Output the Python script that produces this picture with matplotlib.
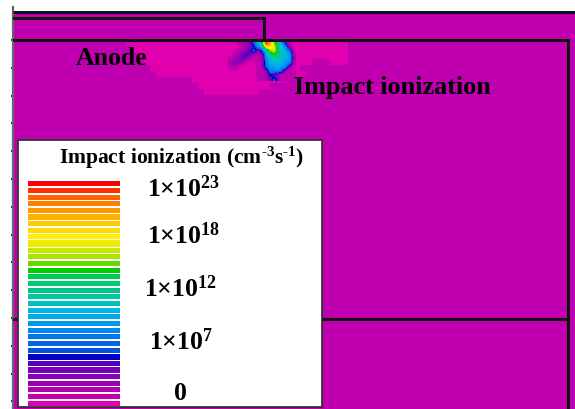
import matplotlib
matplotlib.use('Agg')
import matplotlib.pyplot as plt
from matplotlib.colors import ListedColormap
from matplotlib.patches import Rectangle
import numpy as np

# legend colours, top (highest) to bottom
legend_colors = ['#ff0000', '#ff3000', '#ff6600', '#ff8000', '#ff9900', '#ffb000', '#ffcc00',
                 '#ffdd00', '#fff000', '#eeee00', '#c8e800', '#a8e600', '#66d800', '#00d000',
                 '#00cc55', '#00cc70', '#00c488', '#00c8a0', '#00c0c0', '#00b8e0', '#00aaee',
                 '#0099ee', '#0088ee', '#0077ee', '#0066e8', '#0055dd', '#0000cc', '#5500bb',
                 '#7700bb', '#8800bb', '#9900b4', '#b000b0', '#c800b0', '#e000b0']
thick_stripes = [9, 26]
legend_labels = [r'1×10^{23}', r'1×10^{18}', r'1×10^{12}', r'1×10^{7}', '0']
label_xpos = [183, 183, 180, 181, 180]
label_ypos = [189, 236, 289, 342, 394]

# low-level region, one string per row of cells ('#' = lowest level)
low_region = [
    '.#####################################',
    '..####################################',
    '...###################################',
    '....############################...###',
    '.....#########################........',
    '......#########################.......',
    '............################..........',
    '.............############.............',
    '..............#########...............',
]

# hot spot levels, 0 = lowest, 33 = highest
spot_levels = np.array([
    [0, 0, 1, 2, 3, 5, 9, 13, 18, 33, 29, 22, 16, 12, 5, 1, 0],
    [0, 0, 0, 1, 2, 4, 6, 11, 14, 25, 26, 24, 18, 14, 11, 2, 0],
    [0, 0, 1, 2, 4, 6, 9, 3, 8, 15, 21, 23, 19, 15, 13, 10, 1],
    [0, 1, 2, 5, 7, 5, 2, 1, 3, 12, 17, 19, 18, 15, 13, 12, 2],
    [1, 2, 4, 6, 4, 1, 1, 1, 2, 11, 14, 16, 16, 14, 13, 12, 3],
    [2, 3, 4, 2, 1, 0, 0, 1, 2, 10, 13, 14, 14, 13, 12, 11, 2],
    [1, 2, 1, 0, 0, 0, 0, 1, 2, 9, 12, 12, 13, 12, 11, 3, 1],
    [0, 0, 0, 0, 0, 0, 0, 1, 2, 3, 10, 11, 11, 9, 2, 1, 1],
    [0, 0, 0, 0, 0, 0, 0, 1, 1, 2, 7, 6, 3, 1, 1, 1, 1],
    [0, 0, 0, 0, 0, 0, 0, 1, 1, 2, 5, 8, 6, 1, 1, 1, 1],
])

W, H = 575, 410
plt.rcParams['font.family'] = ['Liberation Serif', 'DejaVu Sans']
plt.rcParams['font.weight'] = 'bold'
plt.rcParams['mathtext.fontset'] = 'custom'
plt.rcParams['mathtext.rm'] = 'Liberation Serif:bold'
plt.rcParams['mathtext.bf'] = 'Liberation Serif:bold'
plt.rcParams['mathtext.default'] = 'rm'

fig = plt.figure(figsize=(W / 100, H / 100), dpi=100, facecolor='white')


def px_axes(x0, y0, x1, y1):
    return fig.add_axes([x0 / W, 1 - y1 / H, (x1 - x0) / W, (y1 - y0) / H])


ax = px_axes(13, 12, W, H)
ax.set_facecolor('#c000b0')
for s in ['top', 'right', 'bottom', 'left']:
    ax.spines[s].set_visible(False)
ax.set_xticks([])
ax.set_yticks(np.arange(41, H, 27.8))
ax.set_yticklabels([])
ax.tick_params(axis='y', length=1.5, width=1.2, color='black', direction='out')

# colours for the field: same list, lowest level first, purple background as level 1
field_cmap = ListedColormap(legend_colors[::-1][0:1] + ['#c000b0'] + legend_colors[::-1][2:])
low = np.array([[c == '#' for c in row] for row in low_region], dtype=float)
low = np.ma.masked_where(low == 0, low * 0)
ax.imshow(low, cmap=field_cmap, vmin=-0.5, vmax=33.5, extent=(120, 348, 96, 42),
          interpolation='nearest', aspect='auto', zorder=1)
ax.imshow(spot_levels, cmap=field_cmap, vmin=-0.5, vmax=33.5, extent=(228, 296, 82, 42),
          interpolation='bilinear', aspect='auto', zorder=2)
ax.set_xlim(13, W)
ax.set_ylim(H, 12)

# left axis line sticks out above the plot
ax.plot([13, 13], [8, H], color='#666666', lw=1.6, zorder=3, clip_on=False)

# device outline
ax.plot([13, W], [12.5, 12.5], color='#111111', lw=2.2, zorder=3, solid_capstyle='butt')
ax.plot([13, 264, 264], [19, 19, 41], color='#111111', lw=2.2, zorder=3)
ax.plot([13, 568, 568], [41, 41, H], color='#111111', lw=2.2, zorder=3)
ax.plot([13, 568], [320, 320], color='#111111', lw=2.2, zorder=3)

ax.text(76, 58, 'Anode', fontsize=18.5, fontweight='bold', va='center', ha='left', zorder=4)
ax.text(294, 87, 'Impact ionization', fontsize=18.8, fontweight='bold', va='center', ha='left', zorder=4)

# legend box
ax.add_patch(Rectangle((18, 141), 304, 267, facecolor='white', edgecolor='#333333', lw=1.3, zorder=5))
ax.text(59, 158, r'Impact ionization (cm$^{\text{-3}}$s$^{\text{-1}}$)', fontsize=15.5, fontweight='bold',
        va='center', ha='left', zorder=6)
for lab, lx, ly in zip(legend_labels, label_xpos, label_ypos):
    ax.text(lx, ly, '$' + lab + '$', fontsize=18.5, fontweight='bold', va='center', ha='center', zorder=6)

leg = px_axes(28, 181.4, 120, 407.6)
leg.axis('off')
heights = [0.95 if i in thick_stripes else 0.76 for i in range(len(legend_colors))]
leg.barh(np.arange(len(legend_colors)), 1, height=heights, color=legend_colors)
leg.set_xlim(0, 1)
leg.set_ylim(len(legend_colors) - 0.5, -0.5)

fig.savefig('out.png', dpi=100)
